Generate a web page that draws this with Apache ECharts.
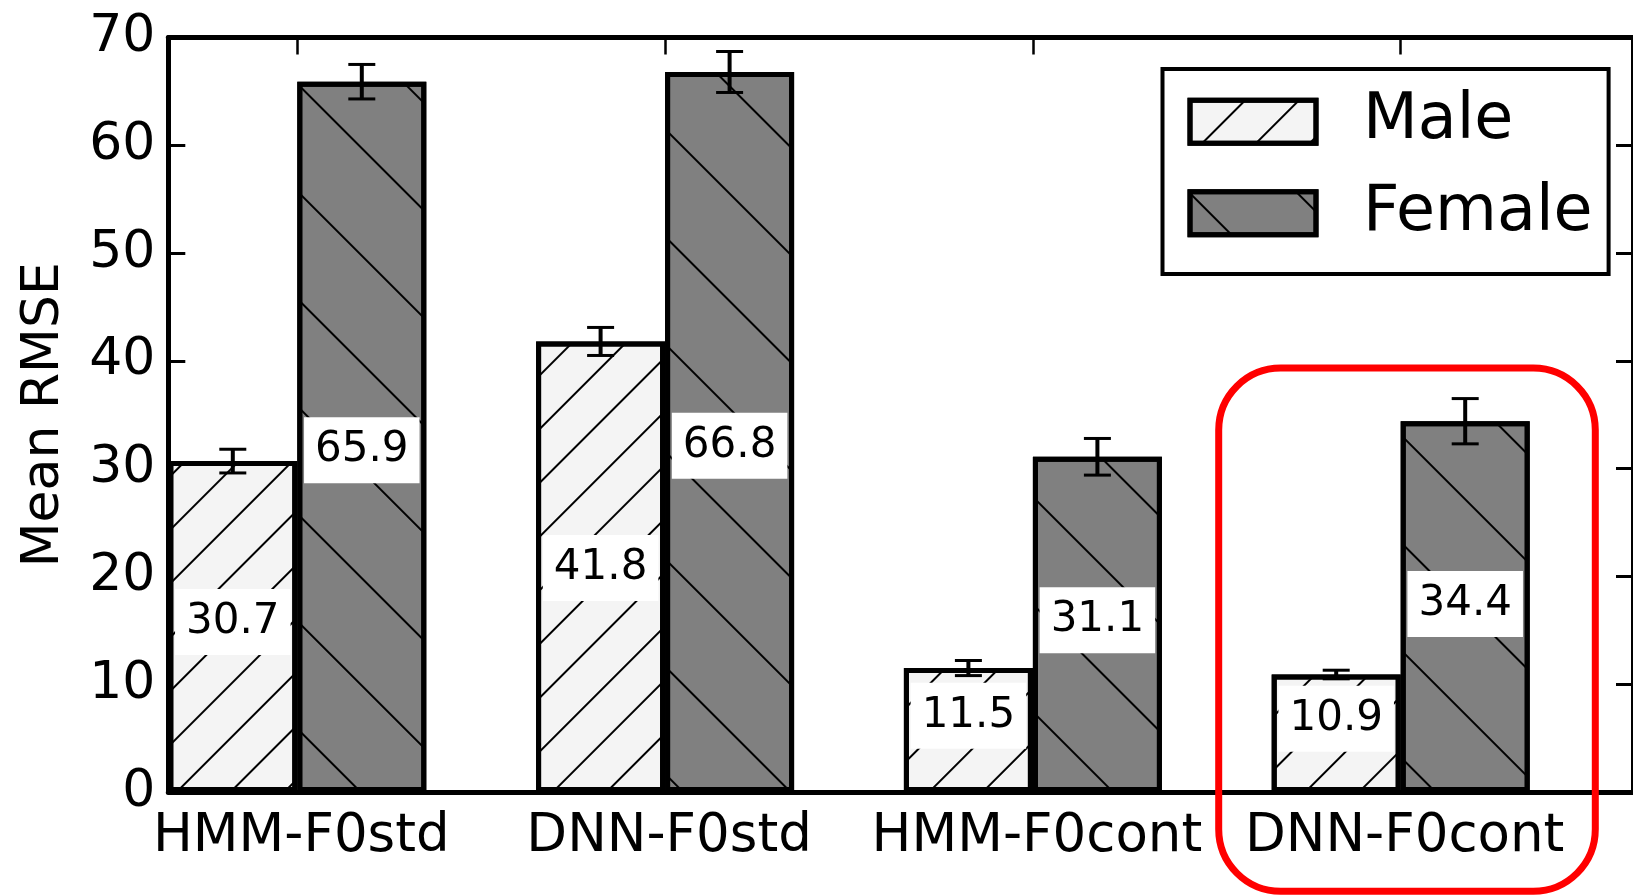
<!DOCTYPE html>
<html><head><meta charset="utf-8">
<script src="https://cdn.jsdelivr.net/npm/echarts@6/dist/echarts.min.js"></script>
<style>html,body{margin:0;padding:0;background:#fff}#c{width:1633px;height:895px}</style>
</head><body><div id="c"></div>
<script>
// ---- data ----
const categories = ['HMM-F0std', 'DNN-F0std', 'HMM-F0cont', 'DNN-F0cont'];
const maleValues = [30.7, 41.8, 11.5, 10.9];
const femaleValues = [65.9, 66.8, 31.1, 34.4];
const maleErrors = [1.1, 1.3, 0.7, 0.4];
const femaleErrors = [1.6, 1.9, 1.7, 2.1];
const seriesNames = ['Male', 'Female'];
const yMin = 0, yMax = 70, yStep = 10;

// ---- style ----
const FONT = 'DejaVu Sans';
const BAR_W = 129;
const chart = echarts.init(document.getElementById('c'), null, {renderer: 'canvas'});

function hatch(rot, gap) {
  return {symbol: 'rect', symbolSize: 1, dashArrayX: [1, 0], dashArrayY: [1.4, gap], rotation: rot, color: '#000'};
}

function errorSeries(values, errors, side) {
  return {
    type: 'custom', xAxisIndex: 0, yAxisIndex: 0, z: 10, silent: true,
    data: values.map((v, i) => [i, v, errors[i]]),
    renderItem(params, api) {
      const i = api.value(0), v = api.value(1), e = api.value(2);
      const top = api.coord([i, v + e]);
      const bot = api.coord([i, v - e]);
      const x = top[0] + side * BAR_W / 2;
      const cap = 13.5;
      return {type: 'group', children: [
        {type: 'line', shape: {x1: x, y1: top[1], x2: x, y2: bot[1]}, style: {stroke: '#000', lineWidth: 4}},
        {type: 'line', shape: {x1: x - cap, y1: top[1], x2: x + cap, y2: top[1]}, style: {stroke: '#000', lineWidth: 3}},
        {type: 'line', shape: {x1: x - cap, y1: bot[1], x2: x + cap, y2: bot[1]}, style: {stroke: '#000', lineWidth: 3}}
      ]};
    }
  };
}

const barLabel = {
  show: true, position: ['50%', '54.7%'], align: 'center', verticalAlign: 'middle', offset: [0, -20],
  formatter: p => p.value.toFixed(1),
  fontSize: 42, fontFamily: FONT, color: '#000', backgroundColor: '#fff', padding: [8, 11], lineHeight: 50
};

const spine = {show: true, onZero: false, lineStyle: {color: '#000', width: 5}};

const option = {
  animation: false,
  backgroundColor: '#fff',
  textStyle: {fontFamily: FONT},
  grid: [
    {left: 168.3, right: -6.7, top: 37.5, bottom: 103},
    {left: 113.4, right: 48.4, top: 37.5, bottom: 103}
  ],
  xAxis: [
    {gridIndex: 1, type: 'category', data: categories, position: 'bottom',
     axisLine: {show: false, onZero: false}, axisTick: {show: false},
     axisLabel: {fontSize: 53, color: '#000', fontFamily: FONT, margin: 19, interval: 0, padding: [0, 0, 0, 8]}},
    {gridIndex: 1, type: 'category', data: categories, position: 'top',
     axisLine: {show: false, onZero: false},
     axisTick: {show: true, inside: true, alignWithLabel: true, length: 17, lineStyle: {color: '#000', width: 2.5}},
     axisLabel: {show: false}},
    {gridIndex: 0, type: 'value', min: 0, max: 1, position: 'bottom', axisLine: spine,
     axisTick: {show: false}, axisLabel: {show: false}, splitLine: {show: false}},
    {gridIndex: 0, type: 'value', min: 0, max: 1, position: 'top', axisLine: spine,
     axisTick: {show: false}, axisLabel: {show: false}, splitLine: {show: false}}
  ],
  yAxis: [
    {gridIndex: 1, type: 'value', min: yMin, max: yMax, interval: yStep, show: false},
    {gridIndex: 0, type: 'value', min: yMin, max: yMax, interval: yStep, position: 'left', axisLine: spine,
     axisTick: {show: true, inside: true, length: 17, lineStyle: {color: '#000', width: 3}},
     axisLabel: {fontSize: 52, color: '#000', fontFamily: FONT, margin: 13},
     splitLine: {show: false},
     name: 'Mean RMSE', nameLocation: 'middle', nameGap: 98,
     nameTextStyle: {fontSize: 52, color: '#000', fontFamily: FONT}},
    {gridIndex: 0, type: 'value', min: yMin, max: yMax, interval: yStep, position: 'right', axisLine: spine,
     axisTick: {show: true, inside: true, length: 17, lineStyle: {color: '#000', width: 3}},
     axisLabel: {show: false}, splitLine: {show: false}}
  ],
  legend: {
    data: seriesNames, orient: 'vertical', left: 1162.5, top: 69, icon: 'rect',
    itemWidth: 126, itemHeight: 43, itemGap: 27.5, padding: [20.8, 16, 28.6, 25],
    borderColor: '#000', borderWidth: 4, backgroundColor: '#fff', selectedMode: false,
    itemStyle: {borderColor: '#000', borderWidth: 5},
    textStyle: {fontSize: 63.5, color: '#000', fontFamily: FONT, padding: [0, 0, 0, 42]}
  },
  series: [
    {name: seriesNames[0], type: 'bar', xAxisIndex: 0, yAxisIndex: 0, data: maleValues,
     barWidth: BAR_W, barGap: '0%',
     itemStyle: {color: '#f4f4f4', borderColor: '#000', borderWidth: 5, decal: hatch(-Math.PI / 4, 36)},
     label: barLabel},
    {name: seriesNames[1], type: 'bar', xAxisIndex: 0, yAxisIndex: 0, data: femaleValues,
     barWidth: BAR_W, barGap: '0%',
     itemStyle: {color: '#808080', borderColor: '#000', borderWidth: 5, decal: hatch(Math.PI / 4, 74)},
     label: barLabel},
    errorSeries(maleValues, maleErrors, -1),
    errorSeries(femaleValues, femaleErrors, 1)
  ],
  graphic: [
    {type: 'rect', shape: {x: 1218.7, y: 368, width: 376.6, height: 523.3, r: 62},
     style: {fill: null, stroke: '#ff0000', lineWidth: 7}, z: 100, silent: true}
  ]
};
chart.setOption(option);
</script>
</body></html>
